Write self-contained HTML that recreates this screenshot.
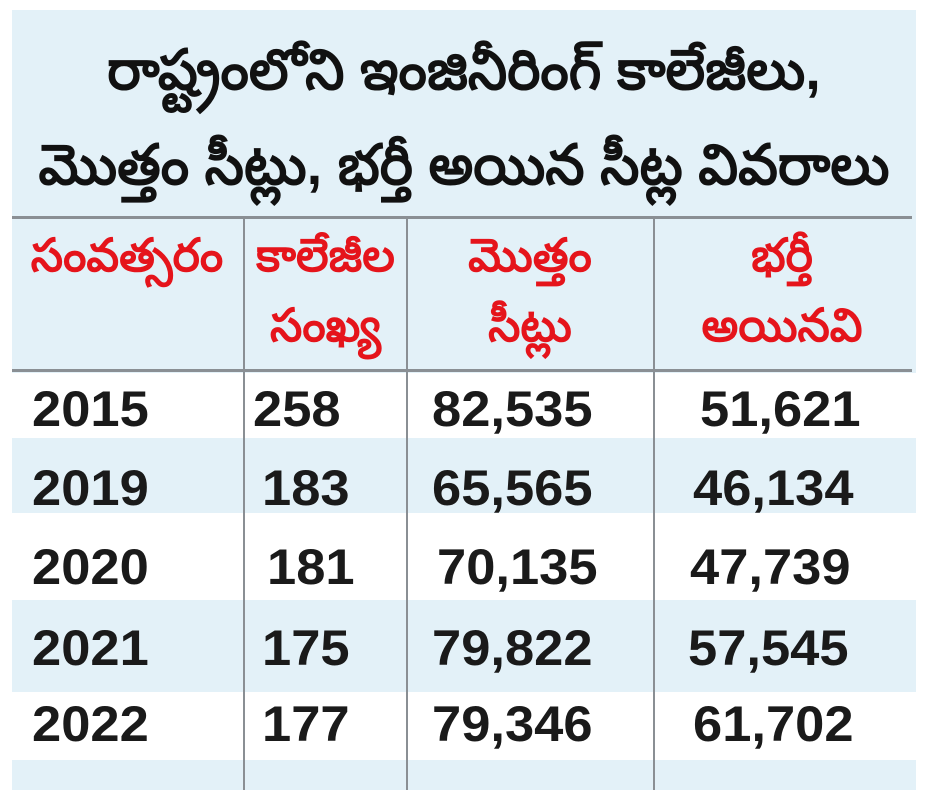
<!DOCTYPE html>
<html><head><meta charset="utf-8"><style>
body{margin:0;width:926px;height:801px;background:#fff;position:relative;overflow:hidden;font-family:"Liberation Sans",sans-serif}
.box{position:absolute;left:12px;top:10px;width:904px;height:780px;background:#e3f1f8}
.t{position:absolute;left:12px;width:904px;text-align:center;font-weight:bold;font-size:56px;line-height:70px;color:#111;white-space:nowrap;font-family:"Liberation Sans","Noto Sans CJK SC",sans-serif}
.hl{position:absolute;left:12px;width:900px;height:3px;background:#8a8f94}
.vl{position:absolute;top:218px;width:2px;height:572px;background:#8a8f94}
.w{position:absolute;left:12px;width:904px;background:#fff}
.h{position:absolute;color:#e5141b;font-size:46px;line-height:60px;font-weight:bold;text-align:center;white-space:nowrap;font-family:"Liberation Sans","Noto Sans CJK SC",sans-serif}
.n{position:absolute;font-weight:bold;font-size:50px;line-height:50px;color:#1a1a1a;transform:scaleX(1.05);transform-origin:left center}
</style></head><body>
<div class="box"></div>
<div class="w" style="top:373px;height:65px"></div>
<div class="w" style="top:513px;height:87px"></div>
<div class="w" style="top:692px;height:68px"></div>
<div class="t" style="top:35px">రాష్ట్రంలోని ఇంజినీరింగ్ కాలేజీలు,</div>
<div class="t" style="top:130px">మొత్తం సీట్లు, భర్తీ అయిన సీట్ల వివరాలు</div>
<div class="hl" style="top:216px"></div>
<div class="hl" style="top:369px"></div>
<div class="vl" style="left:243px"></div>
<div class="vl" style="left:406px"></div>
<div class="vl" style="left:653px"></div>
<div class="h" style="left:14px;width:226px;top:225px">సంవత్సరం</div>
<div class="h" style="left:248px;width:155px;top:225px">కాలేజీల</div>
<div class="h" style="left:248px;width:155px;top:295px">సంఖ్య</div>
<div class="h" style="left:410px;width:240px;top:225px">మొత్తం</div>
<div class="h" style="left:410px;width:240px;top:295px">సీట్లు</div>
<div class="h" style="left:657px;width:250px;top:225px">భర్తీ</div>
<div class="h" style="left:657px;width:250px;top:295px">అయినవి</div>
<div class="n" style="left:32px;top:384px">2015</div><div class="n" style="left:253px;top:384px">258</div><div class="n" style="left:432px;top:384px">82,535</div><div class="n" style="left:700px;top:384px">51,621</div>
<div class="n" style="left:32px;top:463px">2019</div><div class="n" style="left:262px;top:463px">183</div><div class="n" style="left:432px;top:463px">65,565</div><div class="n" style="left:693px;top:463px">46,134</div>
<div class="n" style="left:32px;top:542px">2020</div><div class="n" style="left:267px;top:542px">181</div><div class="n" style="left:437px;top:542px">70,135</div><div class="n" style="left:690px;top:542px">47,739</div>
<div class="n" style="left:32px;top:623px">2021</div><div class="n" style="left:262px;top:623px">175</div><div class="n" style="left:432px;top:623px">79,822</div><div class="n" style="left:688px;top:623px">57,545</div>
<div class="n" style="left:32px;top:699px">2022</div><div class="n" style="left:262px;top:699px">177</div><div class="n" style="left:432px;top:699px">79,346</div><div class="n" style="left:693px;top:699px">61,702</div>
</body></html>
